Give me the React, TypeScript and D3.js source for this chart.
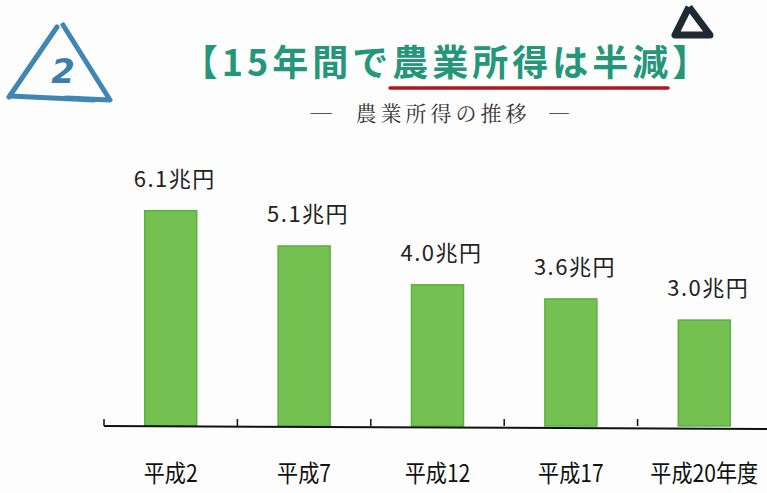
import React from "react";
import * as d3 from "d3";

const categories = ["平成2", "平成7", "平成12", "平成17", "平成20年度"];
const values = [6.1, 5.1, 4.0, 3.6, 3.0];
const valueLabels = ["6.1兆円", "5.1兆円", "4.0兆円", "3.6兆円", "3.0兆円"];
const titlePrefix = "【15年間で";
const titleUnderlined = "農業所得は半減";
const titleSuffix = "】";
const subtitleDash = "―";
const subtitle = "農業所得の推移";

const W = 767;
const H = 493;

export default function App() {
  const x = d3.scaleBand<string>().domain(categories).range([104, 771]).padding(0);
  const y = d3.scaleLinear().domain([0, 7]).range([426, 426 - 7 * 35.3]);
  const barW = 52;
  const baseY = y(0);

  const leftA = d3.line()([[57, 27], [9, 97]] as [number, number][]);
  const leftB = d3.line()([[63, 25], [110, 100], [66, 98]] as [number, number][]);
  const leftC = d3.line()([[10, 96], [94, 100]] as [number, number][]);
  const rightTri = d3.line()([[689, 7], [675, 35], [710, 35], [689, 7]] as [number, number][]);

  return (
    <svg
      width={W}
      height={H}
      style={{ position: "absolute", left: 0, top: 0, background: "#fdfdfd" }}
    >
      {/* handwritten annotations */}
      <g fill="none" stroke="#3f86b3" strokeWidth={5} strokeLinejoin="round" strokeLinecap="round">
        <path d={leftA ?? ""} />
        <path d={leftB ?? ""} />
        <path d={leftC ?? ""} />
      </g>
      <text
        x={63}
        y={83}
        textAnchor="middle"
        fontFamily="DejaVu Sans"
        fontWeight="bold"
        fontStyle="italic"
        fontSize={34}
        fill="#3c7fae"
      >
        2
      </text>
      <path d={rightTri ?? ""} fill="none" stroke="#1f2a33" strokeWidth={7} strokeLinejoin="round" />

      {/* title */}
      <text
        x={447}
        y={76}
        textAnchor="middle"
        fontFamily="'Noto Sans CJK JP'"
        fontWeight="bold"
        fontSize={36}
        letterSpacing={4}
        fill="#24977a"
      >
        {titlePrefix}
        {titleUnderlined}
        {titleSuffix}
      </text>
      <line x1={390} x2={668} y1={88} y2={88} stroke="#b0191e" strokeWidth={3.5} strokeLinecap="round" />
      <g fontFamily="'Noto Serif CJK JP', 'Noto Sans CJK JP'" fontSize={21} fill="#333" textAnchor="middle">
        <text x={321} y={121} transform="translate(321,0) scale(1.2,1) translate(-321,0)">{subtitleDash}</text>
        <text x={443} y={121} letterSpacing={4}>{subtitle}</text>
        <text x={559} y={121} transform="translate(559,0) scale(1.1,1) translate(-559,0)">{subtitleDash}</text>
      </g>

      {/* bars */}
      {categories.map((c, i) => {
        const cx = (x(c) ?? 0) + x.bandwidth() / 2;
        return (
          <g key={c}>
            <rect
              x={cx - barW / 2}
              y={y(values[i])}
              width={barW}
              height={baseY - y(values[i])}
              fill="#74c152"
              stroke="#5cb043"
              strokeWidth={1.5}
            />
            <text
              x={cx + 4}
              y={y(values[i]) - 24}
              textAnchor="middle"
              fontFamily="'Noto Sans CJK JP'"
              fontSize={22}
              letterSpacing={1.5}
              fill="#222"
            >
              {valueLabels[i]}
            </text>
            <text
              x={cx}
              y={482}
              textAnchor="middle"
              fontFamily="'Noto Sans CJK JP'"
              fontSize={24}
              fill="#111"
              transform={`translate(${cx},0) scale(0.88,1) translate(${-cx},0)`}
            >
              {c}
            </text>
          </g>
        );
      })}

      {/* axis */}
      <line x1={104} x2={767} y1={baseY} y2={baseY + 3} stroke="#111" strokeWidth={2} />
      {categories.map((c) => (
        <line
          key={"t" + c}
          x1={x(c) ?? 0}
          x2={x(c) ?? 0}
          y1={baseY - 7}
          y2={baseY}
          stroke="#111"
          strokeWidth={1.5}
        />
      ))}
    </svg>
  );
}
